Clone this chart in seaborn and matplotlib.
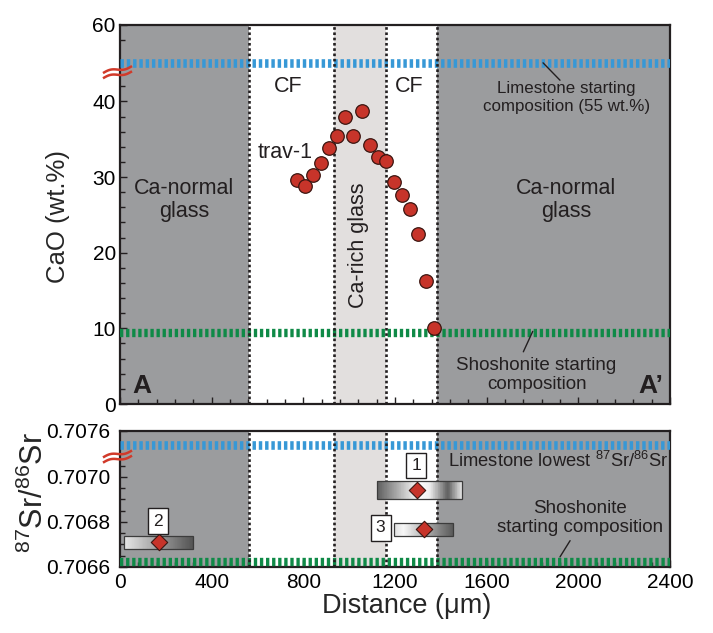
import numpy as np
import matplotlib
matplotlib.use("Agg")
import matplotlib.pyplot as plt
import seaborn as sns
from matplotlib.colors import LinearSegmentedColormap
from matplotlib.patches import Rectangle
from matplotlib.lines import Line2D
from matplotlib.ticker import FixedLocator

# ---- data -------------------------------------------------------------
# CaO profile along traverse trav-1
distance_um = [771, 809, 844, 878, 913, 948, 983, 1018, 1055, 1091,
               1126, 1159, 1194, 1231, 1267, 1302, 1337, 1372]
cao_wt = [29.6, 28.8, 30.3, 31.8, 33.9, 35.4, 37.9, 35.4, 38.7, 34.2,
          32.7, 32.1, 29.3, 27.6, 25.8, 22.5, 16.3, 10.0]

# zone boundaries along the profile (um): glass | CF | Ca-rich glass | CF | glass
zone_edges = [565, 935, 1160, 1383]

# end-member compositions
limestone_cao = 55.0
shoshonite_cao = 9.4
limestone_sr = 0.70754
shoshonite_sr = 0.70662

# 87Sr/86Sr spot analyses
sr_labels = ["1", "2", "3"]
sr_x = [1297, 169, 1326]
sr_x_lo = [1120, 17, 1197]
sr_x_hi = [1491, 317, 1454]
sr_ratio = [0.706942, 0.706709, 0.706767]
sr_err = [0.000039, 0.0000275, 0.0000275]

cao_ticks = [0, 10, 20, 30, 40, 60]
sr_ticks = [0.7066, 0.7068, 0.7070, 0.7076]
sr_tick_labels = ["0.7066", "0.7068", "0.7070", "0.7076"]
dist_ticks = [0, 400, 800, 1200, 1600, 2000, 2400]

# ---- style ------------------------------------------------------------
sns.set_style("ticks")
plt.rcParams["font.family"] = ["Liberation Sans", "DejaVu Sans"]
plt.rcParams["mathtext.fontset"] = "custom"
plt.rcParams["mathtext.rm"] = "Liberation Sans"
plt.rcParams["mathtext.it"] = "Liberation Sans:italic"
plt.rcParams["mathtext.bf"] = "Liberation Sans:bold"

INK = "#231f20"
DARK_ZONE = "#9b9c9e"
LIGHT_ZONE = "#e2dfde"
BLUE = "#3798d6"
GREEN = "#0f8a47"
RED = "#c7342a"
BREAK_RED = "#d13a2a"


def broken_axis(lo, hi, squeeze=0.01):
    """Piecewise scale that collapses the interval [lo, hi]."""
    gap = (hi - lo) * (1 - squeeze)
    top = lo + (hi - lo) * squeeze

    def fwd(y):
        y = np.asarray(y, dtype=float)
        return np.where(y <= lo, y,
                        np.where(y >= hi, y - gap, lo + (y - lo) * squeeze))

    def inv(d):
        d = np.asarray(d, dtype=float)
        return np.where(d <= lo, d,
                        np.where(d >= top, d + gap, lo + (d - lo) / squeeze))
    return fwd, inv


W, H = 713, 633
fig = plt.figure(figsize=(W / 100, H / 100), dpi=100)
ax1 = fig.add_axes([120 / W, 1 - 404 / H, 550 / W, 379 / H])
ax2 = fig.add_axes([120 / W, 1 - 567 / H, 550 / W, 136 / H])

ax1.set_yscale("function", functions=broken_axis(44, 54))
ax2.set_yscale("function", functions=broken_axis(0.70710, 0.70750))

for ax in (ax1, ax2):
    ax.set_xlim(0, 2400)
    ax.set_facecolor("white")
    ax.axvspan(0, zone_edges[0], color=DARK_ZONE, lw=0, zorder=0)
    ax.axvspan(zone_edges[1], zone_edges[2], color=LIGHT_ZONE, lw=0, zorder=0)
    ax.axvspan(zone_edges[3], 2400, color=DARK_ZONE, lw=0, zorder=0)
    for xe in zone_edges:
        ax.axvline(xe, color=INK, lw=1.9, ls=(0, (1, 1.0)), zorder=3.5)
    for s in ax.spines.values():
        s.set_linewidth(1.6)
        s.set_color(INK)
    ax.xaxis.set_major_locator(FixedLocator(dist_ticks))
    ax.xaxis.set_minor_locator(FixedLocator(np.arange(0, 2401, 80)))
    ax.tick_params(which="both", direction="in", color=INK, width=1.0,
                   labelsize=15, labelcolor="black")
    ax.tick_params(which="major", length=5)
    ax.tick_params(which="minor", length=3.5)

# ---- CaO panel --------------------------------------------------------
ax1.set_ylim(0, 60)
ax1.yaxis.set_major_locator(FixedLocator(cao_ticks))
ax1.yaxis.set_minor_locator(FixedLocator(list(range(2, 40, 2)) + [42, 58]))
ax1.set_yticklabels([str(t) for t in cao_ticks])
ax1.tick_params(axis="y", pad=3)
ax1.tick_params(axis="x", labelbottom=False)

ax1.axhline(limestone_cao, color=BLUE, lw=6.2, ls=(0, (0.4, 0.33)),
            dash_capstyle="butt", zorder=3)
ax1.axhline(shoshonite_cao, color=GREEN, lw=6.0, ls=(0, (0.4, 0.33)),
            dash_capstyle="butt", zorder=3)

sns.scatterplot(x=distance_um, y=cao_wt, ax=ax1, s=95, color=RED,
                edgecolor="#3b1510", linewidth=0.9, zorder=6, legend=False)

txt = dict(color=INK, fontsize=15.5, ha="center", va="center", zorder=7)
ax1.text(281, 27.0, "Ca-normal\nglass", linespacing=1.15, **txt)
ax1.text(1946, 27.0, "Ca-normal\nglass", linespacing=1.15, **txt)
ax1.text(733, 42.0, "CF", **txt)
ax1.text(1261, 42.0, "CF", **txt)
ax1.text(720, 33.2, "trav-1", **txt)
ax1.text(1040, 21.0, "Ca-rich glass", rotation=90, **txt)
ax1.text(1949, 40.5, "Limestone starting\ncomposition (55 wt.%)",
         color=INK, fontsize=12.2, ha="center", va="center",
         linespacing=1.25, zorder=7)
ax1.text(1818, 3.8, "Shoshonite starting\ncomposition",
         color=INK, fontsize=13.5, ha="center", va="center",
         linespacing=1.15, zorder=7)
ax1.plot([1846, 1920], [55.0, 42.8], color=INK, lw=1.0, zorder=7)
ax1.plot([1801, 1760], [9.6, 6.9], color=INK, lw=1.0, zorder=7)
ax1.text(95, 2.4, "A", fontsize=19, fontweight="bold", color=INK,
         ha="center", va="center", zorder=7)
ax1.text(2317, 2.4, "A\u2019", fontsize=19, fontweight="bold", color=INK,
         ha="center", va="center", zorder=7)

ax1.set_ylabel("CaO (wt.%)", fontsize=18.5, va="center")
ax1.yaxis.set_label_coords(-0.113, 0.496)

# ---- Sr isotope panel -------------------------------------------------
ax2.set_ylim(0.7066, 0.7076)
ax2.yaxis.set_major_locator(FixedLocator(sr_ticks))
ax2.yaxis.set_minor_locator(FixedLocator([0.70665, 0.70670, 0.70675,
                                          0.70685, 0.70690, 0.70695,
                                          0.70705]))
ax2.set_yticklabels(sr_tick_labels)
ax2.set_xticklabels([str(t) for t in dist_ticks])
ax2.tick_params(axis="y", pad=7)
ax2.tick_params(axis="x", pad=4)

ax2.axhline(limestone_sr, color=BLUE, lw=6.2, ls=(0, (0.4, 0.33)),
            dash_capstyle="butt", zorder=3)
ax2.axhline(shoshonite_sr, color=GREEN, lw=6.0, ls=(0, (0.4, 0.33)),
            dash_capstyle="butt", zorder=3)

bar_maps = [
    LinearSegmentedColormap.from_list(
        "spot1", [(0, "#5e5e5e"), (0.5, "#ffffff"), (0.62, "#f0f0f0"),
                  (0.84, "#5e5e5e"), (1.0, "#e0e0e0")]),
    LinearSegmentedColormap.from_list(
        "spot2", [(0, "#e6e6e6"), (1.0, "#555555")]),
    LinearSegmentedColormap.from_list(
        "spot3", [(0, "#e2e2e2"), (0.15, "#f6f6f6"), (1.0, "#5a5a5a")]),
]

for lo, hi, yv, err, cmap in zip(sr_x_lo, sr_x_hi, sr_ratio, sr_err, bar_maps):
    xs = np.linspace(lo, hi, 121)
    ys = np.array([yv - err, yv + err])
    ax2.pcolormesh(xs, ys, np.linspace(0, 1, 120)[None, :], cmap=cmap,
                   shading="flat", zorder=4)
    ax2.add_patch(Rectangle((lo, yv - err), hi - lo, 2 * err, fill=False,
                            ec="#3c3c3c", lw=0.9, zorder=4.5))

sns.scatterplot(x=sr_x, y=sr_ratio, ax=ax2, marker="D", s=70, color=RED,
                edgecolor="#3b1510", linewidth=0.8, zorder=6, legend=False)

label_pos = {"1": (1292, 0.707052), "2": (166, 0.706804), "3": (1137, 0.706774)}
for lab in sr_labels:
    lx, ly = label_pos[lab]
    ax2.text(lx, ly, lab, fontsize=12.5, color=INK, ha="center", va="center",
             zorder=7, bbox=dict(boxstyle="square,pad=0.3", fc="white",
                                 ec=INK, lw=1.0))

ax2.text(2392, 0.70707, "Limestone lowest $^{87}$Sr/$^{86}$Sr", fontsize=13.2,
         color=INK, ha="right", va="center", zorder=7)
ax2.text(2007, 0.706817, "Shoshonite\nstarting composition", fontsize=13.5,
         color=INK, ha="center", va="center", linespacing=1.2, zorder=7)
ax2.plot([1964, 1920], [0.706717, 0.706645], color=INK, lw=1.0, zorder=7)

ax2.set_ylabel("$^{87}$Sr/$^{86}$Sr", fontsize=22, va="center")
ax2.yaxis.set_label_coords(-0.156, 0.544)
ax2.set_xlabel("Distance (\u03bcm)", fontsize=19.5, va="center")
ax2.xaxis.set_label_coords(0.521, -0.287)


# ---- axis-break marks on the left spines -------------------------------
def break_mark(ax, y_value):
    px, py = ax.transData.transform((0, y_value))
    t = np.linspace(0, 1, 50)
    for off in (-2.6, 2.6):
        xs = px - 17 + 29 * t
        ys = py + off + 7 * t + 1.6 * np.sin(2 * np.pi * t)
        fig.add_artist(Line2D(xs / W, ys / H, transform=fig.transFigure,
                              color=BREAK_RED, lw=1.8, zorder=10,
                              solid_capstyle="butt"))


break_mark(ax1, 43.4)
break_mark(ax2, 0.707075)

fig.savefig("out.png", dpi=100)
